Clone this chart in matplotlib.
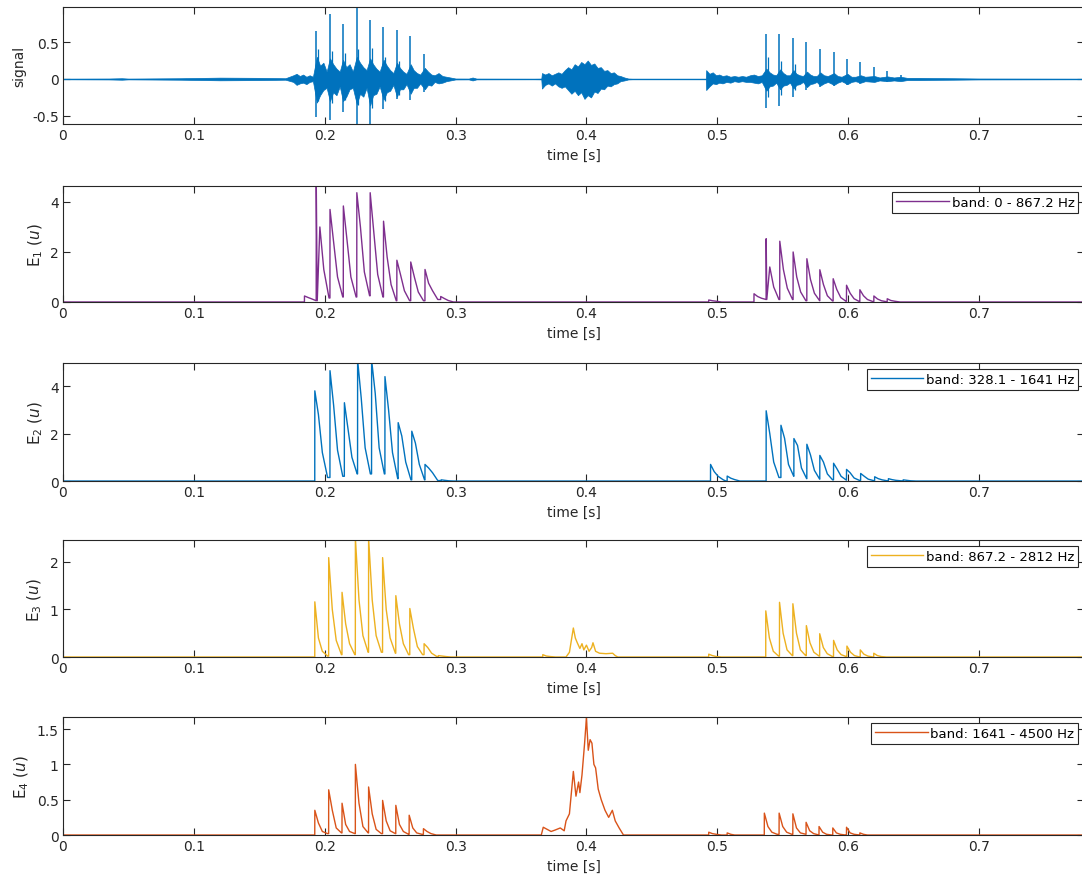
import numpy as np
import matplotlib
matplotlib.use("Agg")
import matplotlib.pyplot as plt

# ---------------- data ----------------
T_END = 0.7805

# signal panel: envelope (upper / lower extremes) of the waveform
sig_env_t = [0.0, 0.035, 0.045, 0.05, 0.09, 0.12, 0.15, 0.17,
             0.1760, 0.1785, 0.1810, 0.1835, 0.1860, 0.1885, 0.1910,
             0.1940, 0.1965, 0.1990, 0.2015, 0.2040, 0.2065, 0.2090, 0.2115,
             0.2140, 0.2165, 0.2190, 0.2215, 0.2245, 0.2270, 0.2295, 0.2320,
             0.2347, 0.2370, 0.2395, 0.2420, 0.2450, 0.2475, 0.2500, 0.2525,
             0.2552, 0.2575, 0.2600, 0.2625, 0.2657, 0.2680, 0.2705, 0.2730,
             0.2765, 0.2790, 0.2815, 0.2840, 0.2870, 0.2900, 0.2930, 0.2960, 0.3000,
             0.3100, 0.3130, 0.3160, 0.3600,
             0.3655, 0.3660, 0.3685, 0.3710, 0.3735, 0.3760, 0.3785, 0.3810, 0.3835,
             0.3860, 0.3885, 0.3910, 0.3935, 0.3960, 0.3985, 0.4010, 0.4035, 0.4060,
             0.4085, 0.4110, 0.4135, 0.4160, 0.4185, 0.4210, 0.4235, 0.4260, 0.4290, 0.4320,
             0.4350, 0.4900,
             0.4912, 0.4915, 0.4940, 0.4965, 0.4990, 0.5015, 0.5040, 0.5070, 0.5100,
             0.5130, 0.5160, 0.5190, 0.5220, 0.5250, 0.5280, 0.5310, 0.5340,
             0.5375, 0.5400, 0.5425, 0.5450, 0.5480, 0.5505, 0.5530, 0.5555,
             0.5582, 0.5605, 0.5630, 0.5655, 0.5685, 0.5710, 0.5735, 0.5760,
             0.5787, 0.5815, 0.5845, 0.5892, 0.5920, 0.5950, 0.5995, 0.6025, 0.6055,
             0.6097, 0.6130, 0.6200, 0.6240, 0.6300, 0.6350, 0.6400, 0.6450,
             0.6550, 0.6650, 0.6800, 0.7000, 0.7805]
sig_env_hi = [0.004, 0.006, 0.01, 0.005, 0.01, 0.018, 0.015, 0.01,
              0.05, 0.07, 0.04, 0.06, 0.03, 0.05, 0.03,
              0.30, 0.18, 0.22, 0.10, 0.28, 0.20, 0.14, 0.10,
              0.26, 0.16, 0.20, 0.10, 0.30, 0.22, 0.16, 0.12,
              0.28, 0.20, 0.14, 0.10, 0.26, 0.18, 0.12, 0.08,
              0.22, 0.15, 0.10, 0.07, 0.20, 0.12, 0.08, 0.06,
              0.15, 0.10, 0.06, 0.05, 0.08, 0.04, 0.03, 0.02, 0.006,
              0.005, 0.02, 0.005, 0.004,
              0.005, 0.08, 0.06, 0.08, 0.05, 0.07, 0.09, 0.07, 0.12,
              0.16, 0.13, 0.20, 0.17, 0.23, 0.20, 0.25, 0.19, 0.21,
              0.15, 0.16, 0.11, 0.12, 0.08, 0.09, 0.05, 0.04, 0.02, 0.006,
              0.004, 0.004,
              0.004, 0.12, 0.07, 0.09, 0.05, 0.06, 0.04, 0.05, 0.03,
              0.04, 0.03, 0.04, 0.03, 0.05, 0.06, 0.04, 0.05,
              0.14, 0.09, 0.06, 0.05, 0.13, 0.08, 0.05, 0.05,
              0.12, 0.07, 0.05, 0.04, 0.10, 0.06, 0.04, 0.04,
              0.09, 0.05, 0.04, 0.08, 0.04, 0.03, 0.07, 0.03, 0.03,
              0.05, 0.03, 0.04, 0.02, 0.035, 0.02, 0.03, 0.015,
              0.015, 0.012, 0.01, 0.006, 0.004]
sig_env_lo = [-0.004, -0.006, -0.01, -0.005, -0.01, -0.018, -0.015, -0.01,
              -0.04, -0.08, -0.06, -0.05, -0.07, -0.04, -0.03,
              -0.32, -0.22, -0.15, -0.12, -0.30, -0.18, -0.22, -0.10,
              -0.30, -0.24, -0.14, -0.12, -0.34, -0.20, -0.24, -0.12,
              -0.36, -0.22, -0.20, -0.10, -0.28, -0.18, -0.16, -0.08,
              -0.24, -0.14, -0.14, -0.07, -0.20, -0.12, -0.12, -0.06,
              -0.14, -0.08, -0.09, -0.04, -0.06, -0.05, -0.03, -0.02, -0.006,
              -0.005, -0.02, -0.005, -0.004,
              -0.005, -0.13, -0.08, -0.06, -0.09, -0.06, -0.10, -0.12, -0.10,
              -0.15, -0.20, -0.16, -0.22, -0.18, -0.27, -0.22, -0.25, -0.17,
              -0.19, -0.13, -0.14, -0.09, -0.10, -0.07, -0.06, -0.03, -0.02, -0.006,
              -0.004, -0.004,
              -0.004, -0.15, -0.10, -0.06, -0.07, -0.05, -0.06, -0.04, -0.05,
              -0.03, -0.04, -0.03, -0.04, -0.04, -0.05, -0.06, -0.04,
              -0.16, -0.10, -0.09, -0.05, -0.14, -0.09, -0.08, -0.05,
              -0.13, -0.08, -0.07, -0.04, -0.11, -0.07, -0.06, -0.04,
              -0.09, -0.06, -0.04, -0.08, -0.05, -0.03, -0.07, -0.04, -0.03,
              -0.05, -0.03, -0.04, -0.02, -0.03, -0.02, -0.03, -0.015,
              -0.015, -0.012, -0.01, -0.006, -0.004]

# signal panel: glottal spikes (time, top, bottom)
spike_t = [0.1935, 0.2037, 0.214, 0.2243, 0.2345, 0.2447, 0.255, 0.2655, 0.2762,
           0.537, 0.5475, 0.5577, 0.568, 0.5782, 0.5888, 0.599, 0.6092, 0.6195, 0.6297, 0.640]
spike_hi = [0.65, 0.88, 0.74, 0.97, 0.80, 0.71, 0.67, 0.585, 0.34,
            0.61, 0.61, 0.56, 0.50, 0.41, 0.36, 0.27, 0.23, 0.16, 0.11, 0.05]
spike_lo = [-0.52, -0.55, -0.45, -0.61, -0.61, -0.41, -0.27, -0.29, -0.17,
            -0.39, -0.36, -0.24, -0.15, -0.11, -0.09, -0.08, -0.07, -0.04, -0.04, -0.03]
# secondary spikes just after the main ones
spike2_t = [0.1950, 0.2052, 0.2155, 0.2258, 0.2360, 0.2462, 0.2565, 0.5385, 0.5490, 0.5592]
spike2_hi = [0.40, 0.38, 0.35, 0.40, 0.42, 0.30, 0.25, 0.30, 0.25, 0.20]
spike2_lo = [-0.30, -0.32, -0.28, -0.35, -0.40, -0.30, -0.22, -0.25, -0.22, -0.15]

# energy panels: pulse onset, peak, level ~3 ms later, level ~6 ms later, level ~10 ms later
e1_t = [0.1845, 0.1935, 0.2040, 0.2142, 0.2245, 0.2347, 0.2449, 0.2551, 0.2657, 0.2766, 0.2886,
        0.4934, 0.5280, 0.5373, 0.5477, 0.5579, 0.5684, 0.5783, 0.5885, 0.5987, 0.6089, 0.6196, 0.6298]
e1_pk = [0.24, 4.70, 3.70, 3.84, 4.37, 4.37, 3.23, 1.67, 1.60, 1.30, 0.22,
         0.08, 0.33, 2.53, 2.43, 2.00, 1.73, 1.29, 0.93, 0.67, 0.49, 0.24, 0.13]
e1_md = [0.18, 3.00, 2.40, 2.50, 3.00, 2.80, 1.80, 1.10, 1.00, 0.75, 0.14,
         0.05, 0.22, 1.40, 1.30, 1.00, 0.90, 0.70, 0.50, 0.35, 0.25, 0.12, 0.06]
e1_kn = [0.12, 1.30, 1.00, 1.00, 1.20, 1.10, 0.70, 0.45, 0.40, 0.45, 0.06,
         0.03, 0.15, 0.60, 0.55, 0.40, 0.35, 0.25, 0.18, 0.13, 0.10, 0.05, 0.03]
e1_vl = [0.05, 0.16, 0.20, 0.20, 0.25, 0.20, 0.05, 0.05, 0.05, 0.10, 0.00,
         0.00, 0.10, 0.10, 0.10, 0.05, 0.05, 0.04, 0.03, 0.02, 0.02, 0.01, 0.00]

e2_t = [0.1924, 0.2040, 0.2150, 0.2251, 0.2358, 0.2460, 0.2561, 0.2665, 0.2766, 0.2890,
        0.4948, 0.5075, 0.5373, 0.5486, 0.5585, 0.5684, 0.5783, 0.5888, 0.5987, 0.6095, 0.6202, 0.6307, 0.6420]
e2_pk = [3.80, 4.65, 3.30, 5.10, 5.10, 4.40, 2.46, 2.10, 0.70, 0.05,
         0.70, 0.21, 2.96, 2.35, 1.79, 1.55, 1.08, 0.75, 0.49, 0.32, 0.18, 0.10, 0.05]
e2_md = [2.80, 3.20, 2.20, 3.50, 3.70, 3.00, 1.90, 1.60, 0.55, 0.03,
         0.40, 0.12, 2.00, 1.80, 1.50, 1.10, 0.80, 0.50, 0.35, 0.20, 0.10, 0.06, 0.03]
e2_kn = [1.20, 1.30, 1.00, 1.40, 1.40, 1.20, 0.80, 0.70, 0.35, 0.01,
         0.20, 0.06, 0.80, 0.70, 0.55, 0.45, 0.30, 0.20, 0.13, 0.08, 0.05, 0.03, 0.01]
e2_vl = [0.15, 0.20, 0.30, 0.30, 0.30, 0.10, 0.05, 0.05, 0.02, 0.00,
         0.05, 0.00, 0.15, 0.20, 0.10, 0.08, 0.05, 0.04, 0.03, 0.02, 0.01, 0.01, 0.00]

e3_t = [0.1924, 0.2030, 0.2132, 0.2234, 0.2335, 0.2442, 0.2543, 0.2650, 0.2759, 0.2868,
        0.3666, 0.4934, 0.5370, 0.5475, 0.5577, 0.5680, 0.5782, 0.5888, 0.5990, 0.6092, 0.6195]
e3_pk = [1.16, 2.09, 1.36, 2.50, 2.50, 2.09, 1.29, 1.02, 0.28, 0.03,
         0.05, 0.06, 0.97, 1.15, 1.12, 0.66, 0.49, 0.35, 0.23, 0.15, 0.08]
e3_md = [0.40, 1.00, 0.70, 1.20, 1.20, 1.00, 0.70, 0.60, 0.20, 0.02,
         0.02, 0.03, 0.40, 0.50, 0.50, 0.30, 0.20, 0.15, 0.10, 0.06, 0.03]
e3_kn = [0.12, 0.35, 0.28, 0.45, 0.45, 0.40, 0.28, 0.22, 0.08, 0.01,
         0.01, 0.01, 0.12, 0.15, 0.15, 0.10, 0.07, 0.05, 0.03, 0.02, 0.01]
e3_vl = [0.02, 0.05, 0.05, 0.10, 0.10, 0.08, 0.05, 0.05, 0.01, 0.00,
         0.00, 0.00, 0.02, 0.03, 0.03, 0.02, 0.01, 0.01, 0.00, 0.00, 0.00]
# E3 noisy cluster around 0.39 s
e3_burst_t = [0.3844, 0.3870, 0.3900, 0.3915, 0.3930, 0.3950, 0.3966, 0.3980, 0.4000,
              0.4020, 0.4040, 0.4050, 0.4070, 0.4100, 0.4150, 0.4200, 0.4220, 0.4240]
e3_burst_v = [0.00, 0.10, 0.61, 0.40, 0.30, 0.18, 0.28, 0.15, 0.25,
              0.12, 0.20, 0.30, 0.12, 0.08, 0.07, 0.08, 0.03, 0.00]

e4_t = [0.1924, 0.2030, 0.2132, 0.2234, 0.2335, 0.2442, 0.2543, 0.2645, 0.2754,
        0.4934, 0.5075, 0.5359, 0.5472, 0.5577, 0.5678, 0.5777, 0.5882, 0.5987, 0.6089]
e4_pk = [0.35, 0.64, 0.45, 1.00, 0.68, 0.49, 0.42, 0.28, 0.09,
         0.04, 0.03, 0.31, 0.31, 0.30, 0.18, 0.12, 0.10, 0.11, 0.03]
e4_md = [0.17, 0.35, 0.15, 0.45, 0.30, 0.20, 0.15, 0.10, 0.05,
         0.02, 0.01, 0.12, 0.12, 0.10, 0.06, 0.04, 0.03, 0.03, 0.01]
e4_kn = [0.05, 0.10, 0.05, 0.12, 0.08, 0.06, 0.05, 0.03, 0.02,
         0.01, 0.00, 0.04, 0.04, 0.03, 0.02, 0.01, 0.01, 0.01, 0.00]
e4_vl = [0.02, 0.03, 0.02, 0.03, 0.02, 0.02, 0.01, 0.01, 0.00,
         0.00, 0.00, 0.01, 0.01, 0.01, 0.00, 0.00, 0.00, 0.00, 0.00]
# E4 fricative burst around 0.4 s
e4_burst_t = [0.3655, 0.3670, 0.3700, 0.3730, 0.3760, 0.3800, 0.3830, 0.3844, 0.3870, 0.3900,
              0.3920, 0.3940, 0.3950, 0.3966, 0.3986, 0.4000, 0.4014, 0.4028, 0.4042,
              0.4057, 0.4070, 0.4090, 0.4113, 0.4142, 0.4170, 0.4198, 0.4220, 0.4250, 0.4283]
e4_burst_v = [0.00, 0.11, 0.08, 0.05, 0.07, 0.10, 0.06, 0.20, 0.30, 0.90,
              0.55, 0.75, 0.60, 0.85, 1.30, 1.66, 1.20, 1.35, 1.30,
              1.00, 0.95, 0.65, 0.50, 0.35, 0.25, 0.35, 0.20, 0.10, 0.00]

bands = ["band: 0 - 867.2 Hz", "band: 328.1 - 1641 Hz",
         "band: 867.2 - 2812 Hz", "band: 1641 - 4500 Hz"]
ylims = [(-0.61, 0.975), (0, 4.64), (0, 4.97), (0, 2.46), (0, 1.67)]
yticks = [[-0.5, 0, 0.5], [0, 2, 4], [0, 2, 4], [0, 1, 2], [0, 0.5, 1, 1.5]]
yticklabels = [["-0.5", "0", "0.5"], ["0", "2", "4"], ["0", "2", "4"],
               ["0", "1", "2"], ["0", "0.5", "1", "1.5"]]
xticks = [0, 0.1, 0.2, 0.3, 0.4, 0.5, 0.6, 0.7]
xticklabels = ["0", "0.1", "0.2", "0.3", "0.4", "0.5", "0.6", "0.7"]

# ---------------- styling ----------------
C_BLUE = "#0072BD"
C_PURPLE = "#7E2F8E"
C_YELLOW = "#EDB120"
C_ORANGE = "#D95319"
AXC = "#262626"

OFFS = (0.0028, 0.0058, 0.0098)   # shape offsets of a pulse after onset


def pulse_series(t, pk, md, kn, vl, extra_t=None, extra_v=None):
    pts = [(0.0, 0.0)]
    for i in range(len(t)):
        prev = pts[-1][1]
        pts.append((t[i], prev))
        pts.append((t[i] + 0.00005, pk[i]))
        pts.append((t[i] + OFFS[0], md[i]))
        pts.append((t[i] + OFFS[1], kn[i]))
        pts.append((t[i] + OFFS[2], vl[i]))
        nxt = t[i + 1] if i + 1 < len(t) else None
        if nxt is None or nxt - t[i] > 0.0125:
            pts.append((t[i] + OFFS[2] + 0.002, 0.0))
    if extra_t is not None:
        pts += list(zip(extra_t, extra_v))
    pts.append((T_END, 0.0))
    pts.sort(key=lambda p: p[0])
    xs, ys = zip(*pts)
    return np.array(xs), np.array(ys)


fig = plt.figure(figsize=(10.82, 8.79), dpi=100)
plt.rcParams["font.family"] = ["DejaVu Sans"]

rows = [(0.8578, 0.1331), (0.6553, 0.1320), (0.4516, 0.1342), (0.2514, 0.1331), (0.0489, 0.1342)]
axes = [fig.add_axes([0.0582, b, 0.9440, h]) for b, h in rows]

# panel 1: signal
ax = axes[0]
ax.fill_between(sig_env_t, sig_env_lo, sig_env_hi, color=C_BLUE, lw=0.5)
ax.plot(sig_env_t, np.zeros(len(sig_env_t)), color=C_BLUE, lw=0.8)
ax.vlines(spike_t, spike_lo, spike_hi, color=C_BLUE, lw=1.1)
ax.vlines(spike2_t, spike2_lo, spike2_hi, color=C_BLUE, lw=0.9)
ax.set_ylabel("signal", fontsize=10, color=AXC)

series = [
    (e1_t, e1_pk, e1_md, e1_kn, e1_vl, None, None, C_PURPLE),
    (e2_t, e2_pk, e2_md, e2_kn, e2_vl, None, None, C_BLUE),
    (e3_t, e3_pk, e3_md, e3_kn, e3_vl, e3_burst_t, e3_burst_v, C_YELLOW),
    (e4_t, e4_pk, e4_md, e4_kn, e4_vl, e4_burst_t, e4_burst_v, C_ORANGE),
]
for k, (t, pk, md, kn, vl, bt, bv, col) in enumerate(series):
    ax = axes[k + 1]
    xs, ys = pulse_series(t, pk, md, kn, vl, bt, bv)
    ax.plot(xs, ys, color=col, lw=1.0, label=bands[k])
    ax.set_ylabel(r"E$_{%d}$ $\mathit{(u)}$" % (k + 1), fontsize=11, color=AXC)
    leg = ax.legend(loc="upper right", fontsize=9.5, handlelength=4.0, fancybox=False,
                    framealpha=1, edgecolor=AXC, borderaxespad=0.45, borderpad=0.3,
                    handletextpad=0.2)
    leg.get_frame().set_linewidth(0.8)

for i, ax in enumerate(axes):
    ax.set_xlim(0, T_END)
    ax.set_ylim(*ylims[i])
    ax.set_xticks(xticks)
    ax.set_xticklabels(xticklabels)
    ax.set_yticks(yticks[i])
    ax.set_yticklabels(yticklabels[i])
    ax.tick_params(direction="in", length=5, width=0.8, top=True, right=True,
                   labelsize=10, colors=AXC, pad=3)
    for s in ax.spines.values():
        s.set_color(AXC)
        s.set_linewidth(0.8)
    ax.set_xlabel("time [s]", fontsize=10, color=AXC, labelpad=4)

fig.savefig("out.png", dpi=100)
